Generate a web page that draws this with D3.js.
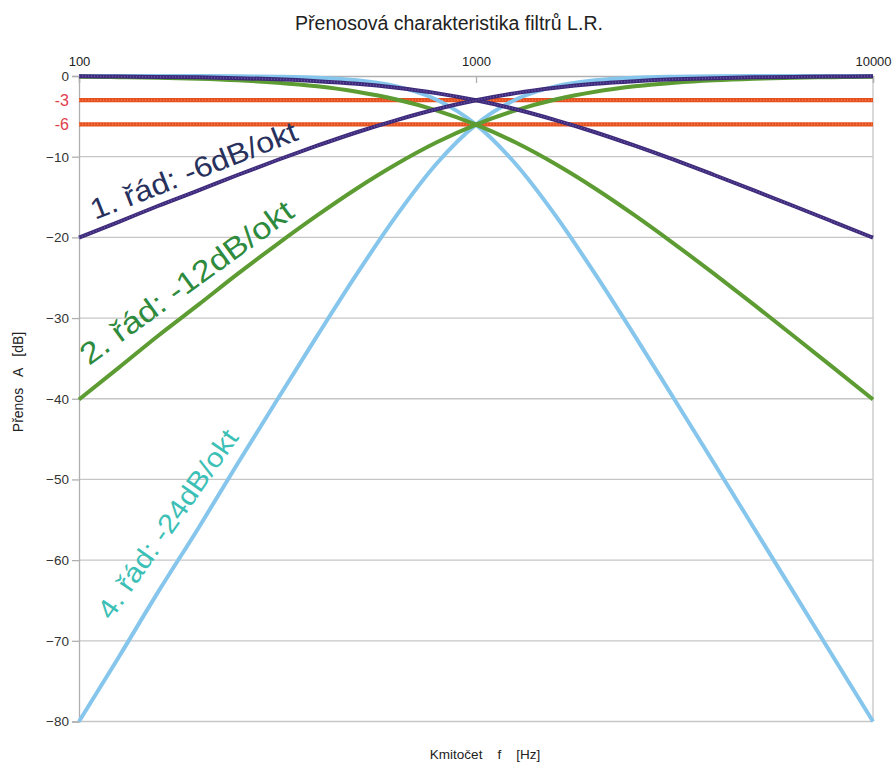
<!DOCTYPE html>
<html>
<head>
<meta charset="utf-8">
<script src="https://cdn.jsdelivr.net/npm/d3@7"></script>
<style>
  html, body { margin: 0; padding: 0; background: #ffffff; }
  svg { display: block; font-family: "Liberation Sans", Arial, sans-serif; }
</style>
</head>
<body>
<svg id="chart" width="893" height="762"></svg>
<script>
// Frequency grid (Hz), ten points per decade
const freqs = [100, 126, 158, 200, 251, 316, 398, 501, 631, 794, 1000,
               1259, 1585, 1995, 2512, 3162, 3981, 5012, 6310, 7943, 10000];

// Transfer in dB for the low-pass / high-pass branches of each order
const lowPass1  = [-0.04, -0.07, -0.11, -0.17, -0.27, -0.41, -0.64, -0.97, -1.46, -2.12, -3.01,
                   -4.12, -5.46, -6.97, -8.64, -10.41, -12.27, -14.17, -16.11, -18.07, -20.04];
const highPass1 = [-20.04, -18.07, -16.11, -14.17, -12.27, -10.41, -8.64, -6.97, -5.46, -4.12, -3.01,
                   -2.12, -1.46, -0.97, -0.64, -0.41, -0.27, -0.17, -0.11, -0.07, -0.04];
const lowPass2  = [-0.09, -0.14, -0.22, -0.34, -0.53, -0.83, -1.28, -1.95, -2.91, -4.25, -6.02,
                   -8.25, -10.91, -13.94, -17.28, -20.83, -24.53, -28.34, -32.22, -36.14, -40.09];
const highPass2 = [-40.09, -36.14, -32.22, -28.34, -24.53, -20.83, -17.28, -13.94, -10.91, -8.25, -6.02,
                   -4.25, -2.91, -1.95, -1.28, -0.83, -0.53, -0.34, -0.22, -0.14, -0.09];
const lowPass4  = [0.00, 0.00, -0.01, -0.01, -0.03, -0.09, -0.22, -0.53, -1.28, -2.91, -6.02,
                   -10.91, -17.28, -24.53, -32.21, -40.09, -48.03, -56.01, -64.00, -72.00, -80.00];
const highPass4 = [-80.00, -72.00, -64.00, -56.01, -48.03, -40.09, -32.21, -24.53, -17.28, -10.91, -6.02,
                   -2.91, -1.28, -0.53, -0.22, -0.09, -0.03, -0.01, -0.01, 0.00, 0.00];

// Reference levels and axis ticks
const refLevels = [-3, -6];
const yTicks = [0, -10, -20, -30, -40, -50, -60, -70, -80];
const xTicks = [100, 1000, 10000];
const xTickLabels = ["100", "1000", "10000"];

const title = "Přenosová charakteristika filtrů L.R.";
const xTitle = "Kmitočet    f    [Hz]";
const yTitle = "Přenos   A   [dB]";
const orderLabels = ["1. řád: -6dB/okt", "2. řád: -12dB/okt", "4. řád: -24dB/okt"];

const svg = d3.select("#chart");
const plot = { left: 79, right: 873, top: 76, bottom: 721.5 };

const x = d3.scaleLog().domain([100, 10000]).range([plot.left, plot.right]);
const y = d3.scaleLinear().domain([0, -80]).range([plot.top, plot.bottom]);

// Horizontal grid
svg.append("g").selectAll("line")
  .data(yTicks.filter(d => d !== 0))
  .join("line")
  .attr("x1", plot.left).attr("x2", plot.right)
  .attr("y1", d => y(d)).attr("y2", d => y(d))
  .attr("stroke", "#c6c6c6").attr("stroke-width", 1.3);

// Right border at 10 kHz
svg.append("line")
  .attr("x1", x(10000)).attr("x2", x(10000))
  .attr("y1", plot.top).attr("y2", plot.bottom)
  .attr("stroke", "#c6c6c6").attr("stroke-width", 1.3);

// Left axis
const yAxis = svg.append("g")
  .attr("transform", `translate(${plot.left},0)`)
  .call(d3.axisLeft(y).tickValues(yTicks).tickSize(7).tickPadding(3).tickFormat(d3.format("d")));
yAxis.select(".domain").attr("stroke", "#b0b0b0").attr("stroke-width", 1.3);
yAxis.selectAll(".tick line").attr("stroke", "#b0b0b0").attr("stroke-width", 1.3);
yAxis.selectAll(".tick text")
  .attr("fill", "#333").attr("font-size", 13.5)
  .attr("font-family", "Liberation Sans, Arial, sans-serif");

// Top axis (0 dB line) with frequency labels
const xAxis = svg.append("g")
  .attr("transform", `translate(0,${plot.top})`)
  .call(d3.axisTop(x).tickValues(xTicks).tickSize(-7).tickPadding(10)
        .tickFormat((d, i) => xTickLabels[i]));
xAxis.select(".domain").attr("stroke", "#b0b0b0").attr("stroke-width", 1.3);
xAxis.selectAll(".tick line").attr("stroke", "#b0b0b0").attr("stroke-width", 1.3);
xAxis.selectAll(".tick text")
  .attr("fill", "#222").attr("font-size", 13)
  .attr("font-family", "Liberation Sans, Arial, sans-serif");

// -3 dB and -6 dB reference lines
const refG = svg.append("g");
refG.selectAll("line.base")
  .data(refLevels).join("line").attr("class", "base")
  .attr("x1", plot.left).attr("x2", plot.right)
  .attr("y1", d => y(d)).attr("y2", d => y(d))
  .attr("stroke", "#e5501e").attr("stroke-width", 4.2);
refG.selectAll("line.dots")
  .data(refLevels).join("line").attr("class", "dots")
  .attr("x1", plot.left).attr("x2", plot.right)
  .attr("y1", d => y(d)).attr("y2", d => y(d))
  .attr("stroke", "#f2784c").attr("stroke-width", 1.6)
  .attr("stroke-dasharray", "1.2 1.8");
refG.selectAll("text")
  .data(refLevels).join("text")
  .attr("x", plot.left - 10).attr("y", d => y(d))
  .attr("dy", "0.36em").attr("text-anchor", "end")
  .attr("fill", "#e0404c").attr("font-size", 16)
  .text(d => d);

const line = d3.line()
  .x((d, i) => x(freqs[i]))
  .y(d => y(d))
  .curve(d3.curveMonotoneX);

// 4th order
[lowPass4, highPass4].forEach(s => {
  svg.append("path").attr("d", line(s))
    .attr("fill", "none").attr("stroke", "#86c6ec").attr("stroke-width", 4)
    .attr("stroke-linejoin", "round");
});
// 2nd order
[lowPass2, highPass2].forEach(s => {
  svg.append("path").attr("d", line(s))
    .attr("fill", "none").attr("stroke", "#5c9c32").attr("stroke-width", 4)
    .attr("stroke-linejoin", "round");
});
// 1st order (dotted texture)
[lowPass1, highPass1].forEach(s => {
  svg.append("path").attr("d", line(s))
    .attr("fill", "none").attr("stroke", "#3c2a78").attr("stroke-width", 4)
    .attr("stroke-linejoin", "round");
  svg.append("path").attr("d", line(s))
    .attr("fill", "none").attr("stroke", "#6650a8").attr("stroke-width", 1.6)
    .attr("stroke-dasharray", "1.2 1.8");
});

// Slope annotations
const annot = [
  { text: orderLabels[0], x: 95,  y: 220, angle: -21.5, size: 29, len: 220, color: "#28305c" },
  { text: orderLabels[1], x: 89,  y: 366, angle: -36,   size: 30, len: 256, color: "#2e8a3c" },
  { text: orderLabels[2], x: 111, y: 621, angle: -55,   size: 27, len: 224, color: "#3cc0b6" }
];
svg.append("g").selectAll("text")
  .data(annot).join("text")
  .attr("transform", d => `translate(${d.x},${d.y}) rotate(${d.angle})`)
  .attr("font-size", d => d.size)
  .attr("textLength", d => d.len)
  .attr("lengthAdjust", "spacingAndGlyphs")
  .attr("fill", d => d.color)
  .text(d => d.text);

// Titles
svg.append("text")
  .attr("x", 449).attr("y", 30)
  .attr("text-anchor", "middle").attr("font-size", 19.5).attr("fill", "#222")
  .text(title);
svg.append("text")
  .attr("x", 485).attr("y", 759)
  .attr("text-anchor", "middle").attr("font-size", 13.5).attr("fill", "#222")
  .style("white-space", "pre")
  .text(xTitle);
svg.append("text")
  .attr("transform", "translate(23,382) rotate(-90)")
  .attr("text-anchor", "middle").attr("font-size", 14).attr("fill", "#222")
  .style("white-space", "pre")
  .text(yTitle);
</script>
</body>
</html>
